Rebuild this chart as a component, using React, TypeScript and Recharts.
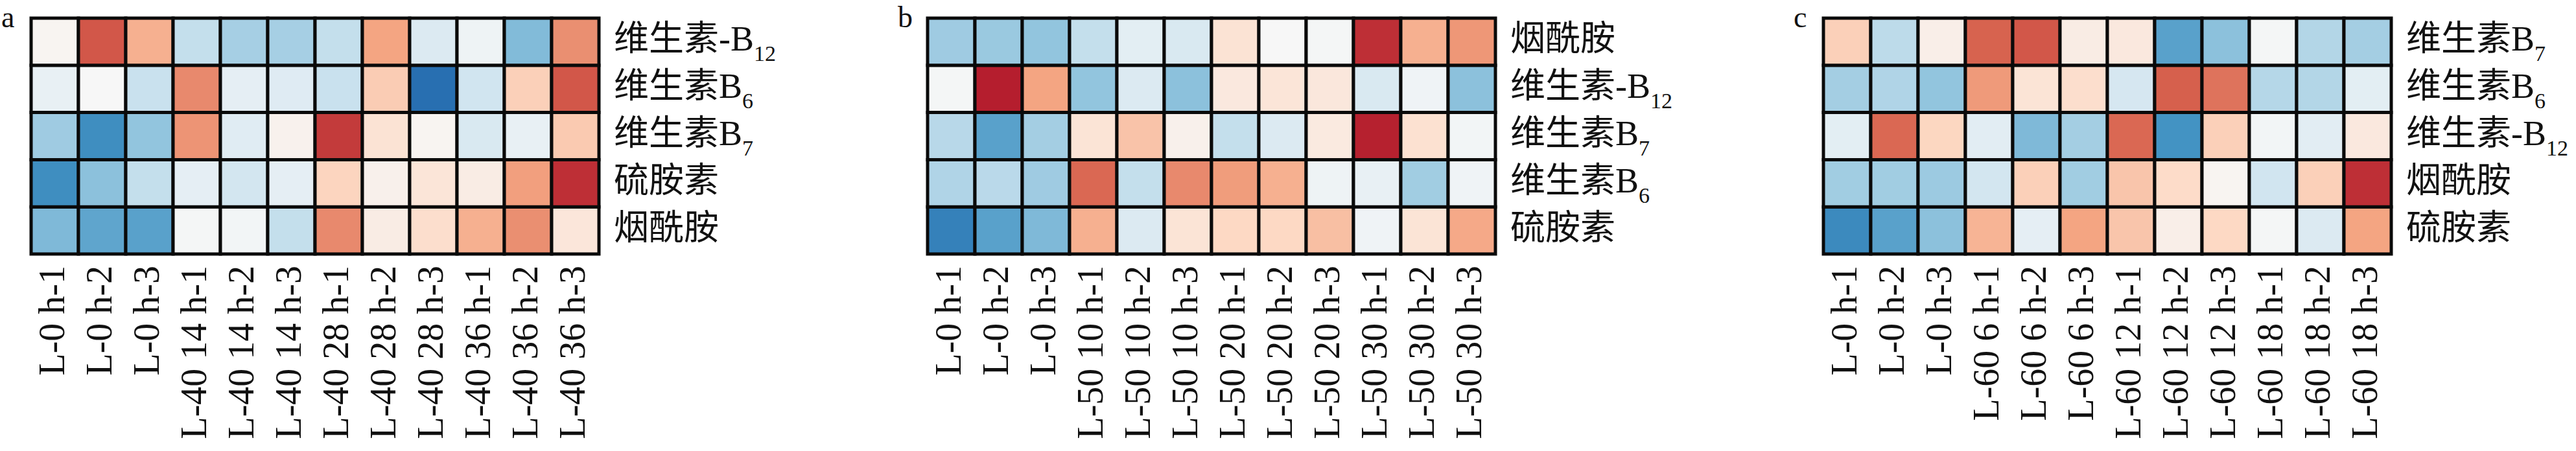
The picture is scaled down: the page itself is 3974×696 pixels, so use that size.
import { BarChart, Bar, XAxis, YAxis, Cell } from "recharts";

// panel a
const aCols = [
  "L-0 h-1", "L-0 h-2", "L-0 h-3",
  "L-40 14 h-1", "L-40 14 h-2", "L-40 14 h-3",
  "L-40 28 h-1", "L-40 28 h-2", "L-40 28 h-3",
  "L-40 36 h-1", "L-40 36 h-2", "L-40 36 h-3",
];
const aRows = ["维生素-B_12", "维生素B_6", "维生素B_7", "硫胺素", "烟酰胺"];
const aValues = [
  [0.03, 0.78, 0.45, -0.3, -0.42, -0.42, -0.3, 0.5, -0.18, -0.06, -0.55, 0.58],
  [-0.1, 0, -0.28, 0.6, -0.12, -0.16, -0.28, 0.32, -0.95, -0.25, 0.3, 0.78],
  [-0.45, -0.78, -0.5, 0.56, -0.15, 0.05, 0.88, 0.18, 0.03, -0.2, -0.1, 0.33],
  [-0.78, -0.52, -0.3, -0.12, -0.24, -0.12, 0.28, 0.06, 0.16, 0.1, 0.52, 0.92],
  [-0.56, -0.66, -0.68, -0.02, -0.03, -0.3, 0.6, 0.1, 0.22, 0.45, 0.58, 0.15],
];

// panel b
const bCols = [
  "L-0 h-1", "L-0 h-2", "L-0 h-3",
  "L-50 10 h-1", "L-50 10 h-2", "L-50 10 h-3",
  "L-50 20 h-1", "L-50 20 h-2", "L-50 20 h-3",
  "L-50 30 h-1", "L-50 30 h-2", "L-50 30 h-3",
];
const bRows = ["烟酰胺", "维生素-B_12", "维生素B_7", "维生素B_6", "硫胺素"];
const bValues = [
  [-0.45, -0.47, -0.5, -0.3, -0.13, -0.2, 0.18, 0, -0.02, 0.92, 0.45, 0.55],
  [-0.02, 0.98, 0.5, -0.5, -0.18, -0.52, 0.13, 0.16, 0.14, -0.2, -0.05, -0.52],
  [-0.35, -0.68, -0.43, 0.17, 0.36, 0.06, -0.3, -0.18, 0.12, 0.97, 0.2, -0.03],
  [-0.38, -0.34, -0.45, 0.72, -0.3, 0.6, 0.53, 0.45, -0.06, -0.1, -0.44, -0.05],
  [-0.85, -0.68, -0.56, 0.45, -0.18, 0.17, 0.26, 0.26, 0.38, -0.05, 0.17, 0.48],
];

// panel c
const cCols = [
  "L-0 h-1", "L-0 h-2", "L-0 h-3",
  "L-60 6 h-1", "L-60 6 h-2", "L-60 6 h-3",
  "L-60 12 h-1", "L-60 12 h-2", "L-60 12 h-3",
  "L-60 18 h-1", "L-60 18 h-2", "L-60 18 h-3",
];
const cRows = ["维生素B_7", "维生素B_6", "维生素-B_12", "烟酰胺", "硫胺素"];
const cValues = [
  [0.3, -0.33, 0.08, 0.74, 0.78, 0.1, 0.13, -0.68, -0.52, -0.02, -0.37, -0.43],
  [-0.43, -0.38, -0.5, 0.54, 0.17, 0.22, -0.22, 0.75, 0.68, -0.36, -0.37, -0.13],
  [-0.13, 0.72, 0.27, -0.14, -0.56, -0.43, 0.72, -0.75, 0.3, -0.03, -0.14, 0.13],
  [-0.44, -0.44, -0.46, -0.24, 0.3, -0.44, 0.35, 0.24, 0.03, -0.25, 0.3, 0.92],
  [-0.8, -0.68, -0.52, 0.43, -0.12, 0.5, 0.35, 0.08, 0.26, -0.02, -0.18, 0.5],
];

const panelLetters = ["a", "b", "c"];

// RdBu-like diverging scale, -1 .. 1
const stops = [
  "#2166ac", "#4393c3", "#92c5de", "#d1e5f0", "#f7f7f7",
  "#fddbc7", "#f4a582", "#d6604d", "#b2182b",
];

const hex = (c: string) => [1, 3, 5].map((i) => parseInt(c.slice(i, i + 2), 16));

const colorOf = (v: number) => {
  const t = Math.max(0, Math.min(1, (v + 1) / 2)) * (stops.length - 1);
  const i = Math.min(stops.length - 2, Math.floor(t));
  const f = t - i;
  const a = hex(stops[i]);
  const b = hex(stops[i + 1]);
  const m = a.map((x, k) => Math.round(x + (b[k] - x) * f));
  return `rgb(${m[0]},${m[1]},${m[2]})`;
};

const serif = "'Liberation Serif', 'Noto Sans CJK SC', serif";

const ColTick = (props: any) => {
  const { x, y, payload } = props;
  return (
    <text
      transform={`translate(${x - 5},${y}) rotate(-90)`}
      textAnchor="end"
      dominantBaseline="central"
      fontFamily={serif}
      fontSize={56}
      fill="#111"
    >
      {payload.value}
    </text>
  );
};

const makeRowTick = (rows: string[]) => (props: any) => {
  const { x, y, payload } = props;
  const r = Math.round(4.5 - payload.value);
  const [base, sub] = rows[r].split("_");
  return (
    <text x={x} y={y + 14} fontFamily={serif} fontSize={54} fill="#111">
      {base}
      {sub && (
        <tspan fontSize={34} dy={16}>
          {sub}
        </tspan>
      )}
    </text>
  );
};

const Panel = ({ cols, rows, values, letter, left }: any) => {
  const data = cols.map((c: string) => {
    const d: any = { name: c };
    rows.forEach((_: string, r: number) => (d[`r${r}`] = 1));
    return d;
  });
  const order = [4, 3, 2, 1, 0];
  return (
    <div style={{ position: "absolute", left, top: 0, width: 1383, height: 696 }}>
      <div
        style={{
          position: "absolute",
          left: 2,
          top: 0,
          fontFamily: serif,
          fontSize: 46,
          lineHeight: "normal",
          color: "#111",
        }}
      >
        {letter}
      </div>
      <BarChart
        width={1383}
        height={696}
        data={data}
        margin={{ top: 28, right: 59, left: 48, bottom: 4 }}
        barCategoryGap={0}
        barGap={0}
      >
        <XAxis
          dataKey="name"
          interval={0}
          axisLine={false}
          tickLine={false}
          tickSize={0}
          tickMargin={18}
          height={300}
          tick={<ColTick />}
        />
        <YAxis
          orientation="right"
          type="number"
          domain={[0, 5]}
          ticks={[0.5, 1.5, 2.5, 3.5, 4.5]}
          axisLine={false}
          tickLine={false}
          tickSize={0}
          tickMargin={23}
          width={400}
          tick={makeRowTick(rows)}
        />
        {order.map((r) => (
          <Bar
            key={r}
            dataKey={`r${r}`}
            stackId="s"
            stroke="#0a0a0a"
            strokeWidth={5}
            isAnimationActive={false}
          >
            {cols.map((_: string, j: number) => (
              <Cell key={j} fill={colorOf(values[r][j])} />
            ))}
          </Bar>
        ))}
      </BarChart>
    </div>
  );
};

export default function App() {
  return (
    <div
      style={{
        position: "absolute",
        left: 0,
        top: 0,
        width: 3974,
        height: 696,
        overflow: "hidden",
        background: "#fff",
      }}
    >
      <Panel cols={aCols} rows={aRows} values={aValues} letter={panelLetters[0]} left={0} />
      <Panel cols={bCols} rows={bRows} values={bValues} letter={panelLetters[1]} left={1383} />
      <Panel cols={cCols} rows={cRows} values={cValues} letter={panelLetters[2]} left={2765} />
    </div>
  );
}
